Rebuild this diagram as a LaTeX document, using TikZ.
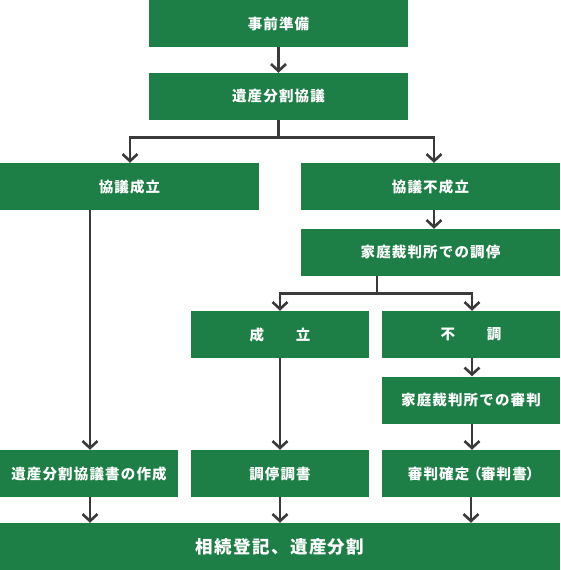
\documentclass[tikz,border=0pt]{standalone}
\usepackage{fontspec}
\usetikzlibrary{arrows.meta}
\newfontfamily\cjk{Noto Sans CJK JP}[LetterSpace=8]
\newcommand{\pal}[1]{{\addfontfeature{RawFeature=+palt}#1}}
\definecolor{boxgreen}{HTML}{1D7F45}
\definecolor{linegray}{HTML}{3A3A3A}
\tikzset{
  box/.style={fill=boxgreen, draw=none, inner sep=0pt, minimum width=259pt, minimum height=47pt,
    text=white, font=\cjk\bfseries\fontsize{14.5pt}{16pt}\selectfont},
  sbox/.style={box, minimum width=178pt},
  wbox/.style={box, minimum width=560pt, font=\cjk\bfseries\fontsize{17.5pt}{19pt}\selectfont},
  arr/.style={draw=linegray, line width=2.6pt, miter limit=10,
    -{Straight Barb[length=7pt,width=15pt,line width=2.6pt]}},
}
\begin{document}
\begin{tikzpicture}[x=1pt,y=-1pt]
\useasboundingbox (0,0) rectangle (560,570);
\node[box] (A) at (278.5,23.5) {事前準備};
\node[box] (B) at (278.5,96.5) {遺産分割協議};
\node[box] (C) at (129.5,186.5) {協議成立};
\node[box] (D) at (430.5,186.5) {協議不成立};
\node[box] (E) at (430.5,252.5) {家庭裁判所での調停};
\node[sbox] (F) at (280,334.5) {成\hspace{2.2em}立};
\node[sbox] (G) at (471,334.5) {不\hspace{2.2em}調};
\node[sbox] (H) at (471,400) {家庭裁判所での審判};
\node[sbox] (I) at (89,473.5) {遺産分割協議書の作成};
\node[sbox] (J) at (280,473.5) {調停調書};
\node[sbox] (K) at (471,473.5) {審判確定\hspace{0.3em}\pal{（}審判書\pal{）}};
\node[wbox] (L) at (280,546.5) {相続登記、遺産分割};
% connectors
\draw[arr] (A.south) -- (B.north);
\draw[arr] (B.south) -- ++(0,17) -| ([xshift=0.5pt]C.north);
\draw[arr] (B.south) -- ++(0,17) -| ([xshift=3.5pt]D.north);
\draw[arr] ([xshift=3.5pt]D.south) -- ([xshift=3.5pt]E.north);
\draw[arr] ([xshift=-53.5pt]E.south) -- ++(0,17) -| (F.north);
\draw[arr] ([xshift=-53.5pt]E.south) -- ++(0,17) -| ([xshift=1pt]G.north);
\draw[arr] ([xshift=1pt]G.south) -- ([xshift=1pt]H.north);
\draw[arr] ([xshift=1pt]H.south) -- ([xshift=1pt]K.north);
\draw[arr] ([xshift=1pt]I.north |- C.south) -- ([xshift=1pt]I.north);
\draw[arr] (F.south) -- (J.north);
\draw[arr] ([xshift=1pt]I.south) -- ([xshift=1pt]I.south |- L.north);
\draw[arr] (J.south) -- (J.south |- L.north);
\draw[arr] (K.south) -- (K.south |- L.north);
\end{tikzpicture}
\end{document}
